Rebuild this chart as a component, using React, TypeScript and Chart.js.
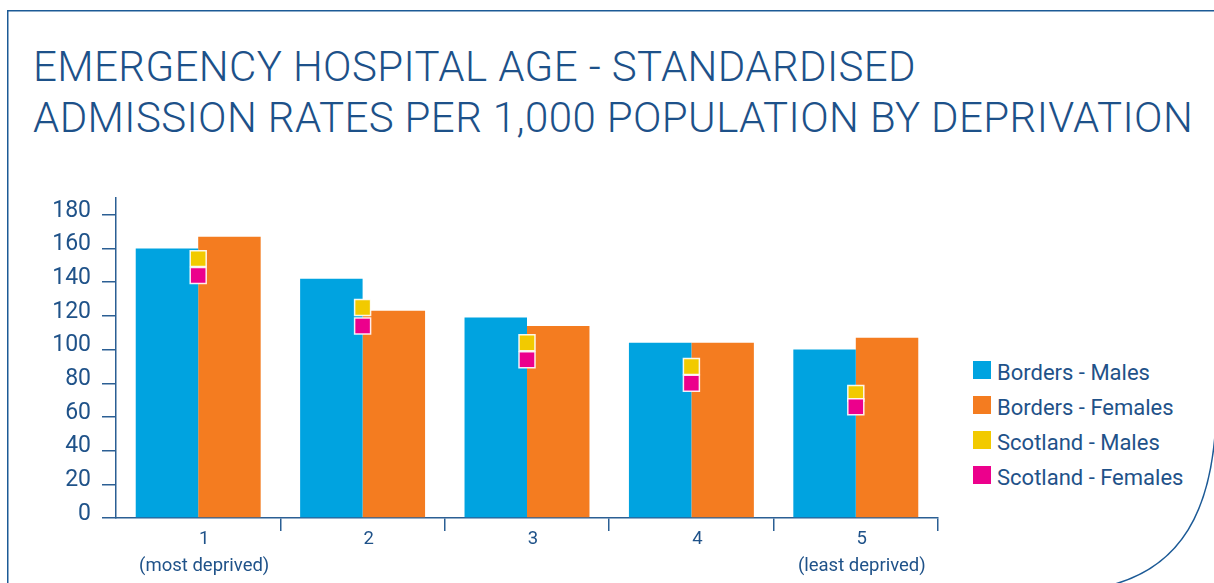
import React, { useEffect, useRef } from 'react';
import { Chart, registerables } from 'chart.js';

Chart.register(...registerables);

// ---------- data ----------
const categories: (string | string[])[] = [['1', '(most deprived)'], '2', '3', '4', ['5', '(least deprived)']];
const yTickValues = [0, 20, 40, 60, 80, 100, 120, 140, 160, 180];
const seriesLabels = ['Borders - Males', 'Borders - Females', 'Scotland - Males', 'Scotland - Females'];
const seriesColors = ['#00a3e0', '#f47c20', '#f2ca00', '#ec008c'];
const bordersMales = [160, 142, 119, 104, 100];
const bordersFemales = [167, 123, 114, 104, 107];
const scotlandMales = [154, 125, 104, 90, 74];
const scotlandFemales = [144, 114, 94, 80, 66];
const titleLines = ['EMERGENCY HOSPITAL AGE - STANDARDISED', 'ADMISSION RATES PER 1,000 POPULATION BY DEPRIVATION'];

const AXIS = '#2b5f94';
const TEXT = '#1f5289';

export default function App() {
  const canvasRef = useRef<HTMLCanvasElement | null>(null);

  useEffect(() => {
    if (!canvasRef.current) return;
    const chart = new Chart(canvasRef.current, {
      type: 'bar',
      data: {
        labels: categories,
        datasets: [
          {
            type: 'bar',
            label: seriesLabels[0],
            data: bordersMales,
            backgroundColor: seriesColors[0],
            categoryPercentage: 0.76,
            barPercentage: 1,
            order: 3,
          },
          {
            type: 'bar',
            label: seriesLabels[1],
            data: bordersFemales,
            backgroundColor: seriesColors[1],
            categoryPercentage: 0.76,
            barPercentage: 1,
            order: 3,
          },
          {
            type: 'line',
            label: seriesLabels[2],
            data: scotlandMales,
            showLine: false,
            pointStyle: 'rect',
            pointRadius: 11.3,
            pointBackgroundColor: seriesColors[2],
            pointBorderColor: 'rgba(255,255,255,0.9)',
            pointBorderWidth: 1.5,
            order: 2,
          },
          {
            type: 'line',
            label: seriesLabels[3],
            data: scotlandFemales,
            showLine: false,
            pointStyle: 'rect',
            pointRadius: 11.3,
            pointBackgroundColor: seriesColors[3],
            pointBorderColor: 'rgba(255,255,255,0.9)',
            pointBorderWidth: 1.5,
            order: 1,
          },
        ] as any,
      },
      options: {
        responsive: false,
        animation: false,
        events: [],
        layout: { padding: { top: 18, right: 22, left: 0, bottom: 0 } },
        plugins: {
          legend: { display: false },
          tooltip: { enabled: false },
        },
        scales: {
          x: {
            offset: true,
            grid: {
              offset: true,
              drawOnChartArea: false,
              drawTicks: true,
              tickLength: 13,
              lineWidth: 1.5,
              color: (ctx: any) => (ctx.type === 'tick' && ctx.index === 0 ? 'rgba(0,0,0,0)' : AXIS),
            },
            border: { display: true, color: AXIS, width: 1.5 },
            ticks: {
              color: TEXT,
              font: { family: 'Roboto', size: 18.5, lineHeight: 1.5 },
              padding: -6,
              labelOffset: 6,
              maxRotation: 0,
              autoSkip: false,
            },
            afterFit: (s: any) => {
              s.height = 65;
              s.paddingLeft = 0;
              s.paddingRight = 0;
            },
          },
          y: {
            min: 0,
            max: 190,
            afterBuildTicks: (s: any) => {
              s.ticks = yTickValues.map((v) => ({ value: v }));
            },
            grid: {
              drawOnChartArea: false,
              drawTicks: true,
              tickLength: 14,
              lineWidth: 1.5,
              color: AXIS,
            },
            border: { display: true, color: AXIS, width: 1.5 },
            ticks: {
              color: TEXT,
              font: { family: 'Roboto', size: 23 },
              padding: 11,
              labelOffset: -4,
            },
            afterFit: (s: any) => {
              s.width = 116;
              s.paddingTop = 0;
              s.paddingBottom = 0;
            },
          },
        },
      } as any,
    });
    return () => chart.destroy();
  }, []);

  return (
    <div
      style={{
        position: 'absolute',
        left: 0,
        top: 0,
        width: 1214,
        height: 583,
        overflow: 'hidden',
        background: '#ffffff',
        fontFamily: 'Roboto, sans-serif',
      }}
    >
      <svg
        width={1214}
        height={583}
        style={{ position: 'absolute', left: 0, top: 0, pointerEvents: 'none' }}
      >
        <path d="M 7.75 600 L 7.75 10.75 L 1220 10.75" fill="none" stroke="#1c5a96" strokeWidth={1.5} />
        <path d="M 1216 420 C 1212 505, 1185 572, 1098 588" fill="none" stroke="#1c5a96" strokeWidth={1.5} />
      </svg>
      <div
        style={{
          position: 'absolute',
          left: 33,
          top: 41,
          fontSize: 42,
          lineHeight: '51px',
          letterSpacing: '0.4px',
          color: '#1d5189',
          whiteSpace: 'nowrap',
          fontWeight: 300,
        }}
      >
        {titleLines.map((t, i) => (
          <div key={i}>{t}</div>
        ))}
      </div>
      <canvas
        ref={canvasRef}
        width={960}
        height={403}
        style={{ position: 'absolute', left: 0, top: 180, width: 960, height: 403 }}
      />
      {seriesLabels.map((label, i) => (
        <React.Fragment key={label}>
          <div
            style={{
              position: 'absolute',
              left: 973,
              top: 361 + 35 * i,
              width: 18,
              height: 18,
              background: seriesColors[i],
            }}
          />
          <div
            style={{
              position: 'absolute',
              left: 997,
              top: 364 + 35 * i,
              height: 18,
              lineHeight: '18px',
              fontSize: 22,
              color: TEXT,
              whiteSpace: 'nowrap',
            }}
          >
            {label}
          </div>
        </React.Fragment>
      ))}
    </div>
  );
}
